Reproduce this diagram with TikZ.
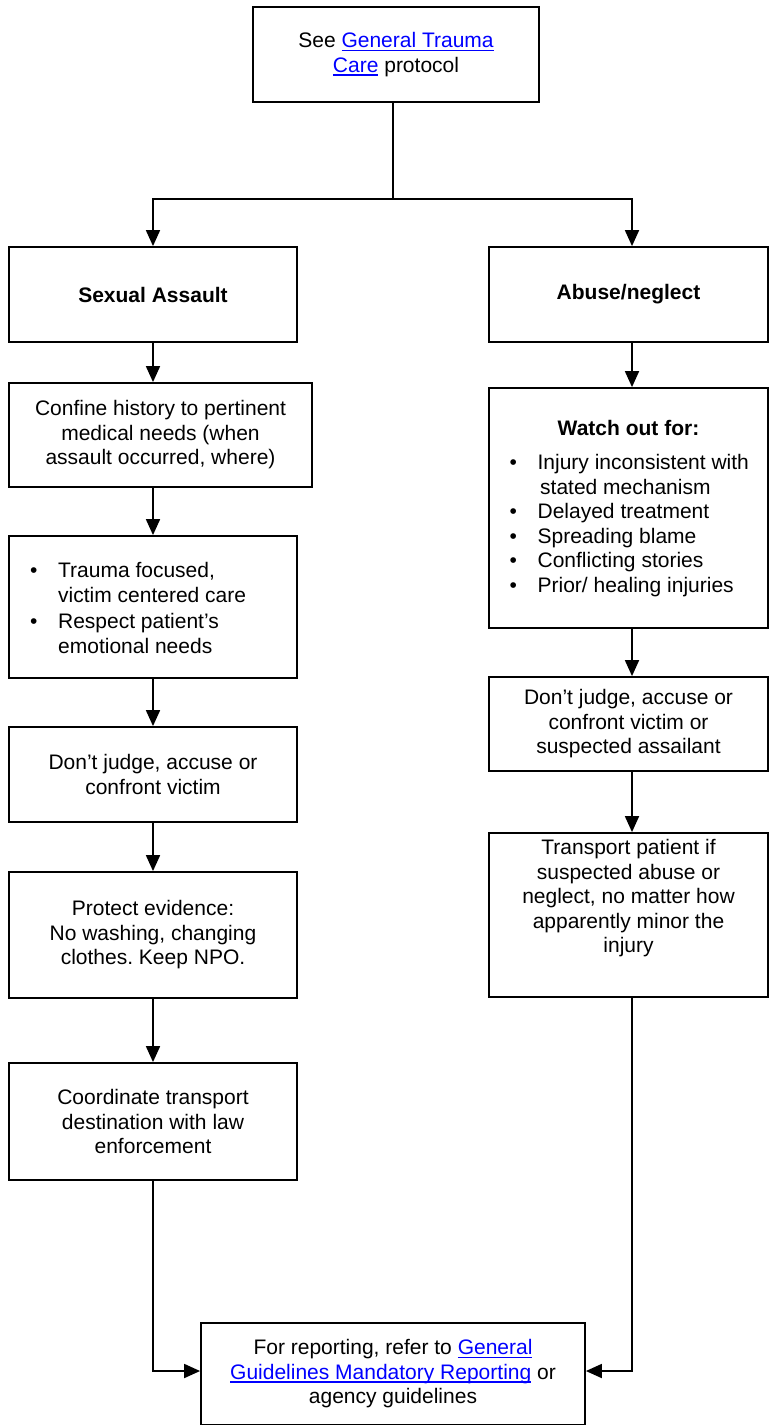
\documentclass[tikz,border=0pt]{standalone}
\usepackage{fontspec}
\setmainfont{Liberation Sans}
\usetikzlibrary{arrows.meta}
\frenchspacing
\definecolor{linkblue}{RGB}{0,0,255}
\newsavebox\lnkbox
\newcommand\lnk[1]{\sbox\lnkbox{\color{linkblue}#1}\rlap{\color{linkblue}\rule[-3.5pt]{\wd\lnkbox}{1.5pt}}\usebox\lnkbox}
\newcommand\bul{\textbullet\hspace*{20.6pt}}
\newcommand\ind[1]{\hspace*{#1}}
\tikzset{
  box/.style={draw, line width=1.8pt, inner sep=0pt, align=center, font=\fontsize{21pt}{24.5pt}\selectfont},
  bbox/.style={box, font=\fontsize{21pt}{24.5pt}\selectfont\bfseries},
  txt/.style={inner sep=0pt, align=center, font=\fontsize{21pt}{24.5pt}\selectfont},
  conn/.style={line width=1.8pt},
  arr/.style={line width=1.8pt, -{Triangle[length=16pt,width=14pt]}},
}
\begin{document}
\begin{tikzpicture}[x=1pt,y=-1pt]
\useasboundingbox (0,0) rectangle (769,1426);
% boxes
\node[box, minimum width=286pt, minimum height=95pt] (top) at (396,54.5) {See \lnk{General Trauma}\\\lnk{Care} protocol};
\node[bbox, minimum width=288pt, minimum height=95pt] (sa) at (153,294.5) {Sexual Assault};
\node[bbox, minimum width=279pt, minimum height=95pt] (an) at (628.5,294.5) {Abuse/neglect};
\node[box, minimum width=303pt, minimum height=104pt] (conf) at (160.5,435) {Confine history to pertinent\\medical needs (when\\assault occurred, where)};
\node[box, minimum width=288pt, minimum height=142pt] (trauma) at (153,607) {};
\node[txt, align=left, anchor=west] (traumatxt) at (30,607.75) {\bul Trauma focused,\\\ind{28pt}victim centered care\\[2pt]\bul Respect patient’s\\\ind{28pt}emotional needs};
\node[box, minimum width=288pt, minimum height=95pt] (judgeL) at (153,774.5) {Don’t judge, accuse or\\confront victim};
\node[box, minimum width=288pt, minimum height=126pt] (protect) at (153,935) {Protect evidence:\\No washing, changing\\clothes. Keep NPO.};
\node[box, minimum width=288pt, minimum height=117pt] (coord) at (153,1121.5) {Coordinate transport\\destination with law\\enforcement};
\node[box, minimum width=279pt, minimum height=240pt] (watch) at (628.5,508) {};
\node[txt, font=\fontsize{21pt}{24.5pt}\selectfont\bfseries] (watcht) at (628.5,428) {Watch out for:};
\node[txt, align=left, anchor=west] (watchl) at (509.5,525.5) {\bul Injury inconsistent with\\\ind{30.5pt}stated mechanism\\\bul Delayed treatment\\\bul Spreading blame\\\bul Conflicting stories\\\bul Prior/ healing injuries};
\node[box, minimum width=279pt, minimum height=94pt] (judgeR) at (628.5,724) {Don’t judge, accuse or\\confront victim or\\suspected assailant};
\node[box, minimum width=279pt, minimum height=164pt] (transport) at (628.5,915) {};
\node[txt] (transporttxt) at (628.5,898.5) {Transport patient if\\suspected abuse or\\neglect, no matter how\\apparently minor the\\injury};
\node[box, minimum width=384pt, minimum height=101.5pt] (bottom) at (393,1373.75) {For reporting, refer to \lnk{General}\\\lnk{Guidelines Mandatory Reporting} or\\agency guidelines};
% helper coordinates
\coordinate (split) at (393,199);
\coordinate (rc) at (632,0);
\coordinate (jy) at (0,1371);
% connectors
\draw[conn] (top.south -| split) -- (split);
\draw[arr] (split) -| (sa.north);
\draw[arr] (split) -| (an.north -| rc);
\draw[arr] (sa.south) -- (sa.south |- conf.north);
\draw[arr] (conf.south -| trauma.north) -- (trauma.north);
\draw[arr] (trauma.south) -- (judgeL.north);
\draw[arr] (judgeL.south) -- (protect.north);
\draw[arr] (protect.south) -- (coord.north);
\draw[arr] (an.south -| rc) -- (watch.north -| rc);
\draw[arr] (watch.south -| rc) -- (judgeR.north -| rc);
\draw[arr] (judgeR.south -| rc) -- (transport.north -| rc);
\draw[arr] (coord.south) |- (bottom.west |- jy);
\draw[arr] (transport.south -| rc) |- (bottom.east |- jy);
\end{tikzpicture}
\end{document}
